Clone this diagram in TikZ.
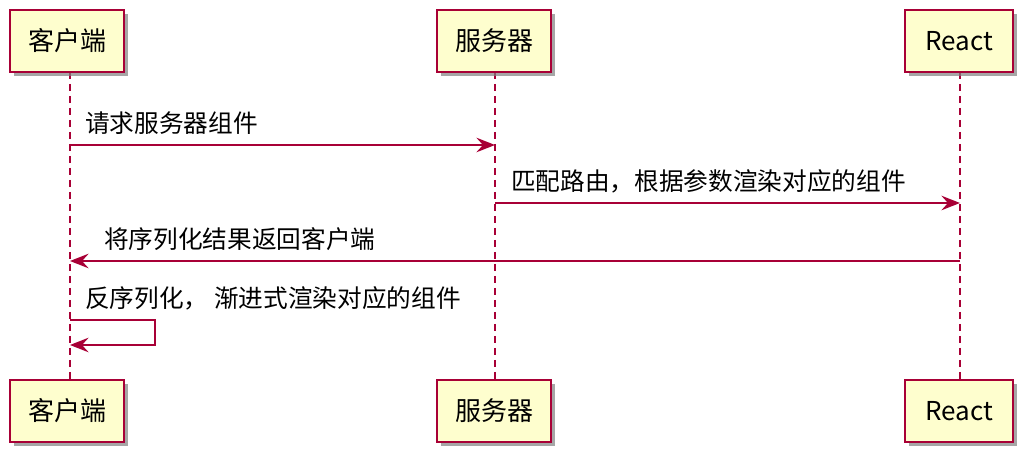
\documentclass[tikz,border=0pt]{standalone}
\usepackage{fontspec}
\setmainfont{Noto Sans CJK SC}
\usetikzlibrary{arrows.meta,shadows}
\definecolor{pbord}{HTML}{A80036}
\definecolor{pfill}{HTML}{FEFECE}
\tikzset{
  part/.style={draw=pbord,fill=pfill,line width=1.3pt,minimum height=62*0.75pt,inner xsep=4pt,font=\fontsize{19.5}{22}\selectfont,
    drop shadow={shadow xshift=3pt,shadow yshift=-3pt,fill=black!50,opacity=0.7}},
  life/.style={draw=pbord,line width=1pt,dash pattern=on 5pt off 4pt},
  msg/.style={draw=pbord,line width=1pt,-{Stealth[length=14pt,width=11pt,inset=5pt]}},
  lbl/.style={font=\fontsize{18.5}{22}\selectfont,anchor=base west,inner sep=0pt}
}
\begin{document}
\begin{tikzpicture}[x=0.75pt,y=-0.75pt]
\useasboundingbox (0,0) rectangle (1033,466);
\coordinate (c1) at (70,72); \coordinate (c2) at (70,380);
\coordinate (s1) at (495,72); \coordinate (s2) at (495,380);
\coordinate (r1) at (960,72); \coordinate (r2) at (960,380);
\draw[life] (c1)--(c2); \draw[life] (s1)--(s2); \draw[life] (r1)--(r2);
\node[part,minimum width=114*0.75pt] (ct) at (67,41) {客户端};
\node[part,minimum width=114*0.75pt] (st) at (494,41) {服务器};
\node[part,minimum width=108*0.75pt] (rt) at (959,41) {React};
\node[part,minimum width=114*0.75pt] (cb) at (67,411) {客户端};
\node[part,minimum width=114*0.75pt] (sb) at (494,411) {服务器};
\node[part,minimum width=108*0.75pt] (rb) at (959,411) {React};
\coordinate (m1a) at (70,145); \coordinate (m1b) at (495,145);
\draw[msg] (m1a)--(m1b);
\node[lbl] (l1) at (85,133) {请求服务器组件};
\coordinate (m2a) at (495,203); \coordinate (m2b) at (960,203);
\draw[msg] (m2a)--(m2b);
\node[lbl] (l2) at (511,191) {匹配路由，根据参数渲染对应的组件};
\coordinate (m3a) at (960,261); \coordinate (m3b) at (70,261);
\draw[msg] (m3a)--(m3b);
\node[lbl] (l3) at (104,249) {将序列化结果返回客户端};
\coordinate (m4a) at (70,320); \coordinate (m4b) at (70,345);
\draw[msg] (m4a)--(155,320)--(155,345)--(m4b);
\node[lbl] (l4) at (85,308) {反序列化， 渐进式渲染对应的组件};
\end{tikzpicture}
\end{document}
